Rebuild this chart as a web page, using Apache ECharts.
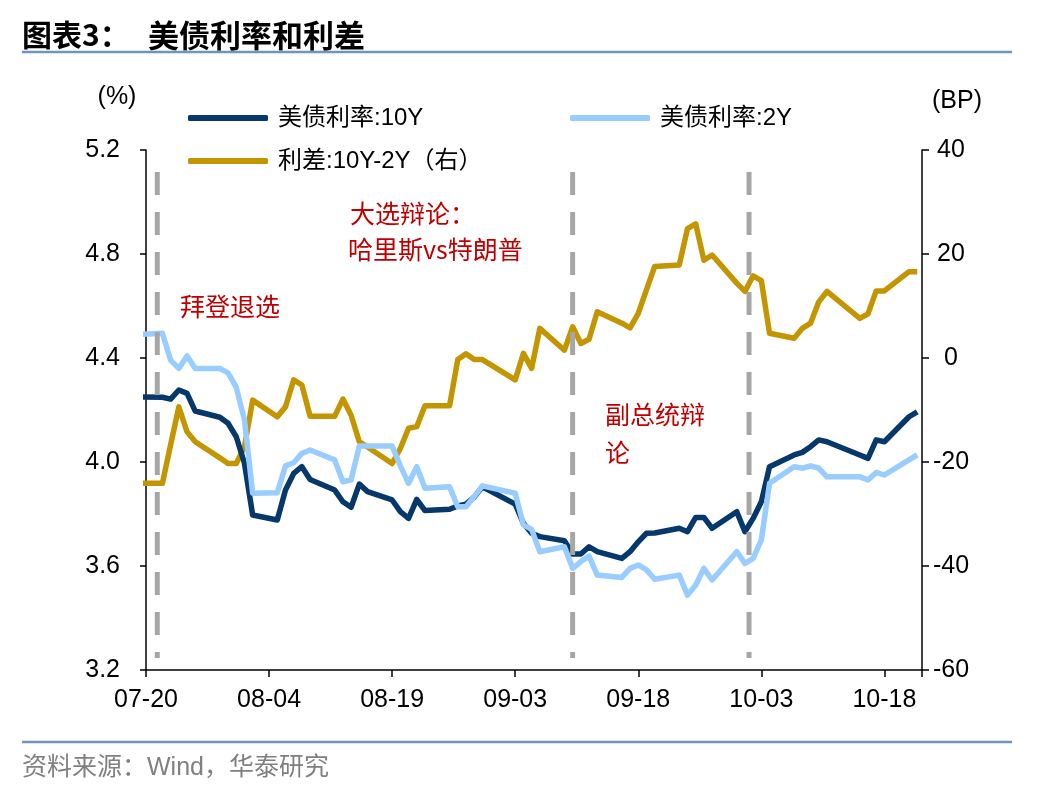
<!DOCTYPE html>
<html><head><meta charset="utf-8">
<script src="https://cdn.jsdelivr.net/npm/echarts@6/dist/echarts.min.js"></script>
<style>html,body{margin:0;padding:0;background:#fff}#c{width:1048px;height:792px}</style>
</head><body><div id="c"></div>
<script>
// Trading days (2024)
const dates = ['07-19','07-22','07-23','07-24','07-25','07-26','07-29','07-30','07-31','08-01','08-02',
 '08-05','08-06','08-07','08-08','08-09','08-12','08-13','08-14','08-15','08-16',
 '08-19','08-20','08-21','08-22','08-23','08-26','08-27','08-28','08-29','08-30',
 '09-03','09-04','09-05','09-06','09-09','09-10','09-11','09-12','09-13',
 '09-16','09-17','09-18','09-19','09-20','09-23','09-24','09-25','09-26','09-27',
 '09-30','10-01','10-02','10-03','10-04','10-07','10-08','10-09','10-10','10-11',
 '10-15','10-16','10-17','10-18','10-21','10-22'];
// 美债利率:10Y (%)
const y10 = [4.25,4.249,4.242,4.277,4.264,4.196,4.172,4.149,4.097,3.995,3.796,
 3.777,3.892,3.956,3.982,3.933,3.892,3.847,3.826,3.915,3.886,
 3.854,3.809,3.783,3.856,3.813,3.818,3.831,3.838,3.865,3.905,
 3.838,3.764,3.726,3.713,3.697,3.646,3.646,3.674,3.655,
 3.629,3.655,3.693,3.726,3.727,3.745,3.732,3.787,3.787,3.745,
 3.809,3.732,3.783,3.847,3.982,4.027,4.037,4.059,4.085,4.078,
 4.027,4.014,4.085,4.078,4.174,4.193];
// 美债利率:2Y (%)
const y2 = [4.49,4.495,4.392,4.36,4.408,4.36,4.36,4.343,4.287,4.162,3.88,
 3.882,3.985,3.997,4.033,4.046,4.008,3.924,3.931,4.062,4.062,
 4.062,3.985,3.918,3.982,3.899,3.905,3.828,3.828,3.867,3.908,
 3.88,3.758,3.741,3.655,3.674,3.591,3.617,3.638,3.565,
 3.556,3.591,3.604,3.585,3.549,3.565,3.488,3.527,3.591,3.546,
 3.655,3.61,3.629,3.70,3.918,3.982,3.976,3.985,3.976,3.943,
 3.943,3.931,3.96,3.95,4.008,4.027];
// 利差:10Y-2Y (BP)
const spread = [-24.1,-24.1,-16.7,-9.4,-14.2,-16.1,-19.2,-20.3,-20.3,-17.1,-8.1,
 -11.3,-9.4,-4.2,-5.2,-11.2,-11.2,-7.9,-11.0,-16.1,-17.1,
 -20.3,-17.4,-13.5,-13.2,-9.2,-9.2,-0.3,0.8,-0.3,-0.3,
 -4.2,0.9,-2.0,5.7,1.5,6.0,2.8,3.6,8.9,
 6.7,5.8,8.6,13.1,17.6,17.9,24.9,25.8,18.8,19.8,
 14.4,12.8,15.8,14.9,4.75,3.8,5.7,6.7,10.8,12.8,
 7.6,8.5,12.9,12.9,16.6,16.6];
const xTickLabels = ['07-20','08-04','08-19','09-03','09-18','10-03','10-18'];
const axisStart = '07-20T00:00', axisEnd = '10-22T14:00';
const eventTimes = ['07-21T09:00','09-10T00:00','10-01T12:00'];

const base = Date.parse('2024-' + axisStart + 'Z');
const dayOf = s => (Date.parse('2024-' + (s.length > 5 ? s : s + 'T00:00') + 'Z') - base) / 864e5;
const pts = arr => dates.map((d, i) => [dayOf(d), arr[i]]);

const FONT = '"Liberation Sans", "Noto Sans CJK SC", sans-serif';
const legendCommon = {
  icon: 'roundRect', itemWidth: 80, itemHeight: 6, selectedMode: false,
  textStyle: {fontSize: 24, color: '#000', fontFamily: FONT, padding: [0, 0, 0, 5], lineHeight: 30}
};
const vlineSeries = eventTimes.map(t => ({
  type: 'line', yAxisIndex: 0, silent: true, symbol: 'none', z: 6,
  data: [[dayOf(t), 5.115], [dayOf(t), 3.246]],
  lineStyle: {color: '#A6A6A6', width: 5, type: [23, 17]}
}));
const axisLineStyle = {color: '#000', width: 1.5};

const chart = echarts.init(document.getElementById('c'), null, {renderer: 'canvas'});
chart.setOption({
  animation: false,
  backgroundColor: '#fff',
  grid: {left: 146, right: 126, top: 150, bottom: 122},
  legend: [
    Object.assign({data: ['美债利率:10Y'], left: 183, top: 98}, legendCommon),
    Object.assign({data: ['美债利率:2Y'], left: 565, top: 98}, legendCommon),
    Object.assign({data: ['利差:10Y-2Y（右）'], left: 183, top: 141}, legendCommon)
  ],
  xAxis: {
    type: 'value', min: 0, max: dayOf(axisEnd), interval: 15,
    axisLine: {onZero: false, lineStyle: axisLineStyle},
    axisTick: {length: 7, lineStyle: axisLineStyle},
    splitLine: {show: false},
    axisLabel: {
      formatter: v => (Math.abs(v % 15) < 1e-6 && xTickLabels[Math.round(v / 15)]) || '',
      fontSize: 25, color: '#000', fontFamily: FONT, margin: 18
    }
  },
  yAxis: [
    {type: 'value', position: 'left', min: 3.2, max: 5.2, interval: 0.4,
      axisLine: {show: true, onZero: false, lineStyle: axisLineStyle},
      axisTick: {show: true, length: 6, lineStyle: axisLineStyle},
      splitLine: {show: false},
      axisLabel: {formatter: v => v.toFixed(1), fontSize: 25, color: '#000', fontFamily: FONT, margin: 26}},
    {type: 'value', position: 'right', min: -60, max: 40, interval: 20,
      axisLine: {show: true, onZero: false, lineStyle: axisLineStyle},
      axisTick: {show: true, length: 7, lineStyle: axisLineStyle},
      splitLine: {show: false},
      axisLabel: {fontSize: 25, color: '#000', fontFamily: FONT, margin: 29, align: 'center'}}
  ],
  series: [
    {name: '美债利率:10Y', type: 'line', yAxisIndex: 0, data: pts(y10), symbol: 'none', z: 4,
      lineStyle: {width: 5.5, color: '#06386B', join: 'round'}, itemStyle: {color: '#06386B'}},
    {name: '美债利率:2Y', type: 'line', yAxisIndex: 0, data: pts(y2), symbol: 'none', z: 5,
      lineStyle: {width: 5.5, color: '#99CCFF', join: 'round'}, itemStyle: {color: '#99CCFF'}},
    {name: '利差:10Y-2Y（右）', type: 'line', yAxisIndex: 1, data: pts(spread), symbol: 'none', z: 3,
      lineStyle: {width: 5.5, color: '#C39500', join: 'round'}, itemStyle: {color: '#C39500'}}
  ].concat(vlineSeries),
  graphic: [
    {type: 'text', x: 22, y: 35, style: {text: '图表3：', font: 'bold 30px "Noto Sans CJK SC"', fill: '#000', textAlign: 'left', textVerticalAlign: 'middle', align: 'left', verticalAlign: 'middle'}},
    {type: 'text', x: 148, y: 35, style: {text: '美债利率和利差', font: 'bold 31px "Noto Sans CJK SC"', fill: '#000', textAlign: 'left', textVerticalAlign: 'middle', align: 'left', verticalAlign: 'middle'}},
    {type: 'line', shape: {x1: 22, y1: 52, x2: 1012, y2: 52}, style: {stroke: '#7393BF', lineWidth: 2.5}},
    {type: 'line', shape: {x1: 22, y1: 742, x2: 1012, y2: 742}, style: {stroke: '#7393BF', lineWidth: 2.5}},
    {type: 'text', x: 22, y: 768, style: {text: '资料来源：Wind，华泰研究', font: '25px "Liberation Sans", "Noto Sans CJK SC"', fill: '#808080', textAlign: 'left', textVerticalAlign: 'middle', align: 'left', verticalAlign: 'middle'}},
    {type: 'text', x: 117, y: 97, style: {text: '(%)', font: '25px "Liberation Sans"', fill: '#000', textAlign: 'center', textVerticalAlign: 'middle', align: 'center', verticalAlign: 'middle'}},
    {type: 'text', x: 957, y: 101, style: {text: '(BP)', font: '25px "Liberation Sans"', fill: '#000', textAlign: 'center', textVerticalAlign: 'middle', align: 'center', verticalAlign: 'middle'}},
    {type: 'text', x: 180, y: 306, z: 10, style: {text: '拜登退选', font: '25px "Noto Sans CJK SC"', fill: '#C00000', textAlign: 'left', textVerticalAlign: 'middle', align: 'left', verticalAlign: 'middle'}},
    {type: 'text', x: 350, y: 213, z: 10, style: {text: '大选辩论：', font: '25px "Noto Sans CJK SC"', fill: '#C00000', textAlign: 'left', textVerticalAlign: 'middle', align: 'left', verticalAlign: 'middle'}},
    {type: 'text', x: 348, y: 249, z: 10, style: {text: '哈里斯vs特朗普', font: '25px "Noto Sans CJK SC"', fill: '#C00000', textAlign: 'left', textVerticalAlign: 'middle', align: 'left', verticalAlign: 'middle'}},
    {type: 'text', x: 605, y: 414, z: 10, style: {text: '副总统辩', font: '25px "Noto Sans CJK SC"', fill: '#C00000', textAlign: 'left', textVerticalAlign: 'middle', align: 'left', verticalAlign: 'middle'}},
    {type: 'text', x: 605, y: 452, z: 10, style: {text: '论', font: '25px "Noto Sans CJK SC"', fill: '#C00000', textAlign: 'left', textVerticalAlign: 'middle', align: 'left', verticalAlign: 'middle'}}
  ]
});
</script></body></html>
